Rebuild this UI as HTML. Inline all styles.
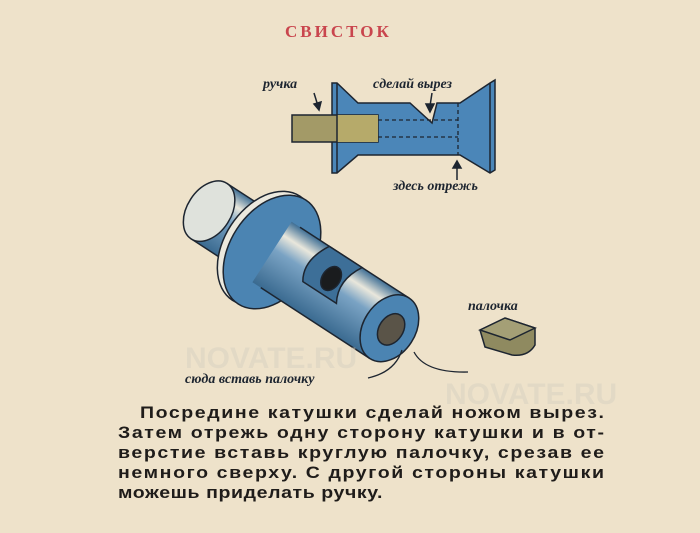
<!DOCTYPE html>
<html><head><meta charset="utf-8">
<style>
html,body{margin:0;padding:0;background:#eee2ca;}
svg{display:block;}
</style></head><body>
<svg width="700" height="533" viewBox="0 0 700 533" xmlns="http://www.w3.org/2000/svg">
<defs>
<linearGradient id="cyl" x1="0" y1="0" x2="0" y2="1">
<stop offset="0" stop-color="#3f6f95"/><stop offset="0.22" stop-color="#e9e7dc"/><stop offset="0.45" stop-color="#7aa3c4"/><stop offset="1" stop-color="#3a6a90"/>
</linearGradient>
</defs>
<rect width="700" height="533" fill="#eee2ca"/>
<text x="285" y="37" font-family="Liberation Serif, serif" font-weight="bold" font-size="17" fill="#c9454d" letter-spacing="3">СВИСТОК</text>

<!-- top diagram -->
<g stroke="#1d2530" stroke-width="1.5">
<path d="M332 83 L337 83 L358 103 L410 103 L432 123 L437 103 L460 103 L490 83 L495 80 L495 170 L490 173 L460 155 L358 155 L337 173 L332 173 Z" fill="#4b86b8"/>
<rect x="292" y="115" width="86" height="27" fill="#a39a67"/>
<rect x="337" y="115" width="41" height="27" fill="#b6aa6a" stroke="none"/>
</g>
<g stroke="#1d2530" stroke-width="1.3" stroke-dasharray="4,3" fill="none">
<path d="M378 120 H458 M378 137 H458 M458 103 V155"/>
</g>
<line x1="337" y1="83" x2="337" y2="173" stroke="#1d2530" stroke-width="1.5"/>
<line x1="490" y1="83" x2="490" y2="173" stroke="#1d2530" stroke-width="1.5"/>
<g font-family="Liberation Serif, serif" font-style="italic" font-weight="bold" font-size="14" fill="#1d2530">
<text x="263" y="88">ручка</text>
<text x="373" y="88">сделай вырез</text>
<text x="393" y="190">здесь отрежь</text>
</g>
<g stroke="#1d2530" stroke-width="1.5" fill="#1d2530">
<line x1="314" y1="93" x2="318" y2="106"/><path d="M314 104 L319 110 L321 102 Z"/>
<line x1="432" y1="93" x2="430" y2="106"/><path d="M426 104 L430 112 L434 104 Z"/>
<line x1="457" y1="180" x2="457" y2="166"/><path d="M453 168 L457 161 L461 168 Z"/>
</g>

<!-- 3D spool -->
<g transform="translate(272,252) rotate(33)" stroke="#1d2530" stroke-width="1.5">
<rect x="-75" y="-33" width="75" height="66" fill="url(#cyl)"/>
<ellipse cx="-75" cy="0" rx="22" ry="33" fill="#dfe2dc"/>
<ellipse cx="-7" cy="0" rx="42" ry="62" fill="#ece9de"/>
<ellipse cx="0" cy="0" rx="42" ry="62" fill="#4b84b2"/>
<rect x="0" y="-36" width="140" height="72" fill="url(#cyl)" stroke="none"/>
<line x1="10" y1="-36" x2="140" y2="-36"/><line x1="10" y1="36" x2="140" y2="36"/>
<path d="M45 -36 Q30 -10 42 8 L82 8 Q70 -12 84 -36 Z" fill="#3d6f98"/>
<ellipse cx="64" cy="-10" rx="9" ry="13" fill="#1a1c1e"/>
<ellipse cx="140" cy="0" rx="26" ry="36" fill="#4b84b2"/>
<ellipse cx="142" cy="0" rx="12" ry="17" fill="#5a5448"/>
</g>
<text x="185" y="383" font-family="Liberation Serif, serif" font-style="italic" font-weight="bold" font-size="14" fill="#1d2530">сюда вставь палочку</text>
<path d="M368 378 Q395 372 402 350 M414 352 Q425 373 468 372" stroke="#1d2530" stroke-width="1.3" fill="none"/>

<!-- stick -->
<g stroke="#1d2530" stroke-width="1.5">
<path d="M480 330 L505 318 L535 328 L535 345 Q528 357 512 355 L485 347 Z" fill="#8f8a60"/>
<path d="M480 330 L505 318 L535 328 L510 340 Z" fill="#a49f76"/>
</g>
<text x="468" y="310" font-family="Liberation Serif, serif" font-style="italic" font-weight="bold" font-size="14" fill="#1d2530">палочка</text>

<g font-family="Liberation Sans, sans-serif" font-size="30" font-weight="bold" fill="#d8d2c2" opacity="0.5">
<text x="185" y="368">NOVATE.RU</text>
<text x="445" y="404">NOVATE.RU</text>
</g>

<g transform="scale(1.15,1)" font-family="Liberation Sans, sans-serif" font-weight="bold" font-size="17" fill="#1f1c1a">
<text x="121.7" y="418" textLength="403.5" lengthAdjust="spacing">Посредине катушки сделай ножом вырез.</text>
<text x="102.6" y="438" textLength="422.6" lengthAdjust="spacing">Затем отрежь одну сторону катушки и в от-</text>
<text x="102.6" y="458" textLength="422.6" lengthAdjust="spacing">верстие вставь круглую палочку, срезав ее</text>
<text x="102.6" y="478" textLength="422.6" lengthAdjust="spacing">немного сверху. С другой стороны катушки</text>
<text x="102.6" y="498" textLength="230" lengthAdjust="spacing">можешь приделать ручку.</text>
</g>
</svg>
</body></html>
